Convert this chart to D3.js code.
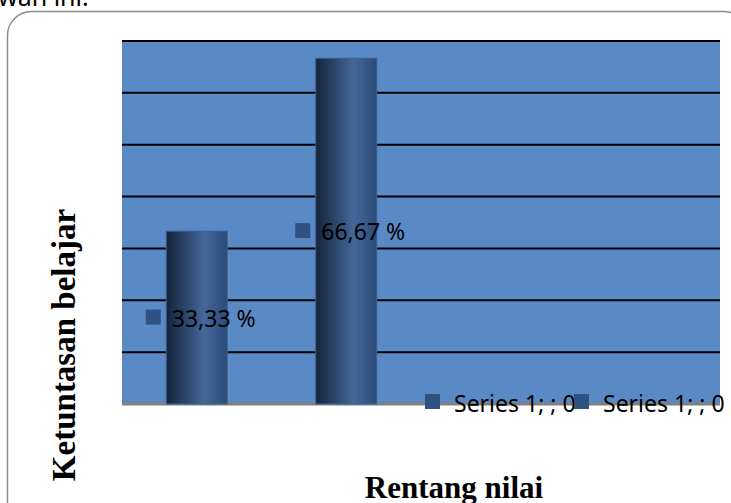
<!DOCTYPE html>
<html>
<head>
<meta charset="utf-8">
<script src="https://cdn.jsdelivr.net/npm/d3@7"></script>
<style>
  body { margin: 0; background: #fff; }
  svg { display: block; }
</style>
</head>
<body>
<svg id="chart"></svg>
<script>
const width = 731;
const height = 503;

// data
const categories = ["1", "2", "3", "4"];
const values = [33.33, 66.67, 0, 0];
const labels = ["33,33 %", "66,67 %", "", ""];
const legendNames = ["Series 1; ; 0", "Series 1; ; 0"];
const yTicks = [0, 10, 20, 30, 40, 50, 60, 70];

const plot = {left: 122, right: 720, top: 41, bottom: 404};

var svg = d3.select("#chart").attr("width", width).attr("height", height);

var defs = svg.append("defs");
var grad = defs.append("linearGradient").attr("id", "cyl")
  .attr("x1", "0%").attr("x2", "100%").attr("y1", "0%").attr("y2", "0%");
grad.append("stop").attr("offset", "0%").attr("stop-color", "#15233a");
grad.append("stop").attr("offset", "30%").attr("stop-color", "#2a4468");
grad.append("stop").attr("offset", "62%").attr("stop-color", "#46679a");
grad.append("stop").attr("offset", "100%").attr("stop-color", "#2b4a77");

// bit of text from the document above the chart
svg.append("text")
  .attr("x", -2).attr("y", 6)
  .attr("font-family", "Noto Sans, sans-serif")
  .attr("font-size", 25)
  .attr("fill", "#000")
  .text("wan ini.");

// outer frame
svg.append("rect")
  .attr("x", 7.5).attr("y", 11.5)
  .attr("width", 740).attr("height", 520)
  .attr("rx", 24).attr("ry", 24)
  .attr("fill", "none")
  .attr("stroke", "#8c8c8c")
  .attr("stroke-width", 1.5);

var xScale = d3.scaleBand().domain(categories)
  .range([plot.left, plot.right])
  .paddingInner(0.592).paddingOuter(0.296);
var yScale = d3.scaleLinear().domain([0, 70]).range([plot.bottom, plot.top]);

// plot background
svg.append("rect")
  .attr("x", plot.left).attr("y", plot.top)
  .attr("width", plot.right - plot.left)
  .attr("height", plot.bottom - plot.top)
  .attr("fill", "#5a8ac6");

// gridlines
svg.append("g").selectAll("line")
  .data(yTicks)
  .enter()
  .append("line")
  .attr("x1", plot.left).attr("x2", plot.right)
  .attr("y1", d => yScale(d)).attr("y2", d => yScale(d))
  .attr("stroke", d => d === 0 ? "#7f7f7f" : "#000")
  .attr("stroke-width", d => d === 0 ? 3 : 2);

// bars (cylinders)
svg.append("g").selectAll("rect")
  .data(values)
  .enter()
  .filter(d => d > 0)
  .append("rect")
  .attr("x", (d, i) => xScale(categories[i]))
  .attr("y", d => yScale(d))
  .attr("width", xScale.bandwidth())
  .attr("height", d => yScale(0) - yScale(d))
  .attr("fill", "url(#cyl)")
  .attr("stroke", "#3d6090")
  .attr("stroke-width", 1);

// data labels
var lab = svg.append("g").selectAll("g")
  .data(values.map((v, i) => ({v: v, c: categories[i], t: labels[i]})).filter(d => d.v > 0))
  .enter()
  .append("g")
  .attr("transform", d => `translate(${xScale(d.c) + xScale.bandwidth() / 2 + 5},${(yScale(d.v) + yScale(0)) / 2})`);

lab.append("rect")
  .attr("x", -56).attr("y", -8)
  .attr("width", 15).attr("height", 15)
  .attr("fill", "#2f5282");

lab.append("text")
  .attr("x", -30).attr("y", 9)
  .attr("font-family", "Noto Sans, sans-serif")
  .attr("font-size", 23)
  .attr("fill", "#000")
  .text(d => d.t);

// legend
var leg = svg.append("g").selectAll("g")
  .data(legendNames)
  .enter()
  .append("g")
  .attr("transform", (d, i) => `translate(${425 + i * 149},394)`);

leg.append("rect")
  .attr("width", 15).attr("height", 15)
  .attr("fill", "#2f5282");

leg.append("text")
  .attr("x", 29).attr("y", 18)
  .attr("font-family", "Noto Sans, sans-serif")
  .attr("font-size", 23)
  .attr("fill", "#000")
  .text(d => d);

// axis titles
svg.append("text")
  .attr("x", 454).attr("y", 498)
  .attr("text-anchor", "middle")
  .attr("font-family", "Liberation Serif, serif")
  .attr("font-weight", "bold")
  .attr("font-size", 31)
  .text("Rentang nilai");

svg.append("text")
  .attr("transform", "translate(75,345) rotate(-90)")
  .attr("text-anchor", "middle")
  .attr("font-family", "Liberation Serif, serif")
  .attr("font-weight", "bold")
  .attr("font-size", 33)
  .text("Ketuntasan belajar");
</script>
</body>
</html>
